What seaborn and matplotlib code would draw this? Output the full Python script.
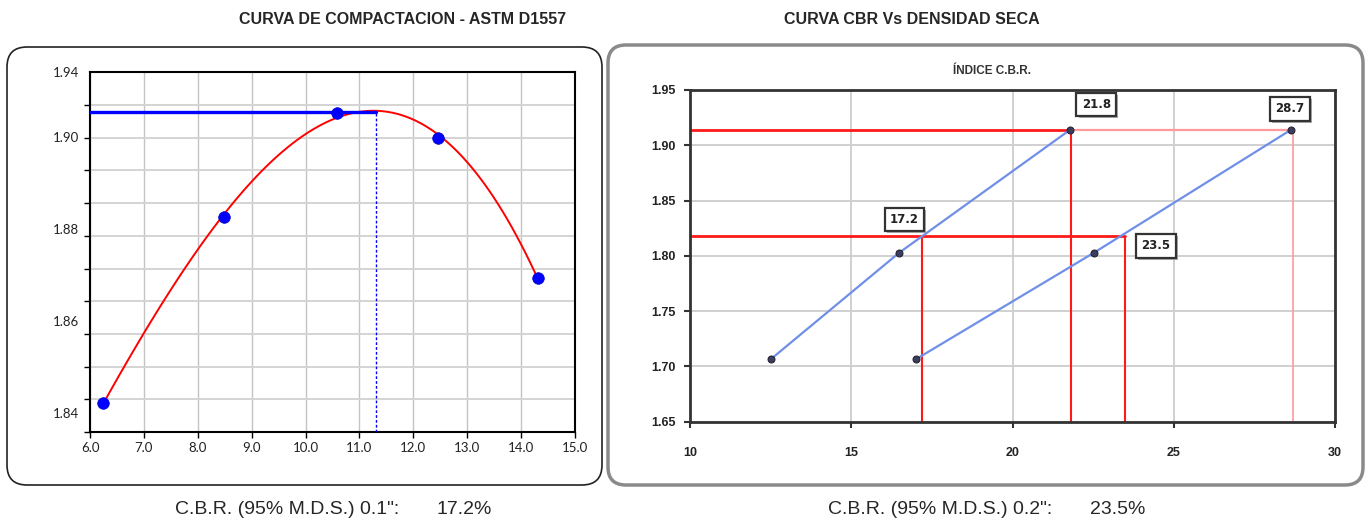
import numpy as np
import pandas as pd
import seaborn as sns
import matplotlib.pyplot as plt
import matplotlib.patheffects as pe
from matplotlib.patches import FancyBboxPatch

# --- compaction test (left chart) ---
humedad = [6.25, 8.48, 10.59, 12.46, 14.31]
densidad = [1.8422, 1.8826, 1.9053, 1.8999, 1.8694]
omc = 11.30          # optimum moisture content
mdd_left = 1.9055    # max dry density as drawn on the left chart
left_ytick_vals = [1.84, 1.86, 1.88, 1.90, 1.9142]
left_ytick_labels = ["1.84", "1.86", "1.88", "1.90", "1.94"]
left_xticks = [6, 7, 8, 9, 10, 11, 12, 13, 14, 15]

# --- CBR vs dry density (right chart) ---
cbr_01 = [12.50, 16.49, 21.79]
cbr_02 = [17.00, 22.53, 28.64]
dens_cbr = [1.7064, 1.8029, 1.9141]
mdd = 1.914
mdd95 = 1.818
cbr95_01, cbr95_02 = 17.2, 23.5
cbr100_01, cbr100_02 = 21.8, 28.7
right_yticks = [1.65, 1.70, 1.75, 1.80, 1.85, 1.90, 1.95]
right_xticks = [10, 15, 20, 25, 30]

sns.set_style("white")
plt.rcParams["font.family"] = ["Liberation Sans", "DejaVu Sans"]

fig = plt.figure(figsize=(13.68, 5.2), dpi=100)

# rounded frames
fig.add_artist(FancyBboxPatch((0.07, 0.35), 5.95, 4.38,
                              boxstyle="round,pad=0,rounding_size=0.2",
                              transform=fig.dpi_scale_trans, fc="white",
                              ec="#222222", lw=1.2, zorder=0))
fig.add_artist(FancyBboxPatch((6.08, 0.35), 7.55, 4.40,
                              boxstyle="round,pad=0,rounding_size=0.18",
                              transform=fig.dpi_scale_trans, fc="white",
                              ec="#8a8a8a", lw=2.5, zorder=0))

# ---------------- left chart ----------------
ax1 = fig.add_axes([90 / 1368, 88 / 520, 485 / 1368, 359.7 / 520])
df1 = pd.DataFrame({"w": humedad, "d": densidad})
sns.regplot(data=df1, x="w", y="d", order=3, ci=None, scatter=False,
            line_kws={"color": "red", "lw": 1.4}, ax=ax1)
ax1.plot([6.0, omc], [mdd_left, mdd_left], color="#0000ff", lw=2.4, zorder=3)
ax1.plot([omc, omc], [1.8358, mdd_left], color="#0000ff", lw=1, ls=(0, (2, 1.5)), zorder=3)
sns.scatterplot(data=df1, x="w", y="d", color="#0000ff", s=70, edgecolor="#0000cc",
                linewidth=0.5, ax=ax1, zorder=4)
ax1.set_xlim(6, 15)
ax1.set_ylim(1.8358, 1.9142)
ax1.set_xticks(left_xticks)
ax1.set_xticklabels([f"{v:.1f}" for v in left_xticks], fontsize=9.5, family="Lato", color="#222222")
ax1.set_yticks(left_ytick_vals)
ax1.set_yticklabels(left_ytick_labels, fontsize=9.5, family="Lato", color="#222222")
ax1.set_yticks(np.linspace(1.8358, 1.9142, 12), minor=True)
ax1.tick_params(axis="y", which="major", length=0, pad=8)
ax1.tick_params(axis="y", which="minor", length=4, width=1, color="black", direction="out", left=True)
ax1.tick_params(axis="x", length=4, width=1, color="black", direction="out", bottom=True, pad=3)
ax1.grid(False)
ax1.grid(axis="y", which="minor", color="#d4d4d4", lw=1.4)
ax1.grid(axis="x", which="major", color="#c4c4c4", lw=1)
ax1.set_axisbelow(True)
for s in ax1.spines.values():
    s.set_color("black")
    s.set_linewidth(1.5)
ax1.set_xlabel("")
ax1.set_ylabel("")

# ---------------- right chart ----------------
ax2 = fig.add_axes([690 / 1368, (520 - 421.7) / 520, 645 / 1368, 331.7 / 520])
df2 = pd.DataFrame({"cbr": cbr_01 + cbr_02, "dens": dens_cbr * 2,
                    "serie": ['0.1"'] * 3 + ['0.2"'] * 3})
red = "#ff1a1a"
pink = "#ff9a9a"
ax2.plot([10, cbr100_01], [mdd, mdd], color=red, lw=2, zorder=2)
ax2.plot([cbr100_01, cbr100_02], [mdd, mdd], color=pink, lw=1.6, zorder=2)
ax2.plot([10, cbr95_02], [mdd95, mdd95], color=red, lw=2, zorder=2)
ax2.vlines([cbr95_01, cbr100_01, cbr95_02], 1.65, [mdd95, mdd, mdd95], color=red, lw=1.5, zorder=2)
ax2.vlines([cbr100_02], 1.65, [mdd], color=pink, lw=1.2, zorder=2)
sns.lineplot(data=df2, x="cbr", y="dens", units="serie", estimator=None,
             color="#6f8fe8", lw=1.6, marker="o", markersize=5,
             markerfacecolor="#3c3c5c", markeredgecolor="#222233", ax=ax2, zorder=3)
box = dict(boxstyle="square,pad=0.45", fc="white", ec="#333333", lw=1.6)
for val, x, y in [(cbr100_01, 22.6, 1.937), (cbr100_02, 28.6, 1.933),
                  (cbr95_01, 16.65, 1.833), (cbr95_02, 24.45, 1.809)]:
    t = ax2.text(x, y, f"{val:.1f}", ha="center", va="center", fontsize=8.5,
                 family="DejaVu Sans", fontweight="bold", color="#222222", bbox=box, zorder=5)
    t.get_bbox_patch().set_path_effects([pe.SimplePatchShadow(offset=(1.5, -1.5), shadow_rgbFace="#999999", alpha=0.8),
                                         pe.Normal()])
ax2.set_xlim(10, 30)
ax2.set_ylim(1.65, 1.95)
ax2.set_xticks(right_xticks)
ax2.set_xticklabels([str(v) for v in right_xticks], fontsize=9, fontweight="bold", color="#222222")
ax2.set_yticks(right_yticks)
ax2.set_yticklabels([f"{v:.2f}" for v in right_yticks], fontsize=9, fontweight="bold", color="#222222")
ax2.tick_params(axis="x", length=4, width=1.5, color="#333333", direction="out", bottom=True, pad=14)
ax2.tick_params(axis="y", length=4, width=1.5, color="#333333", direction="out", left=True, pad=6)
ax2.grid(True, color="#d0d0d0", lw=1.4)
ax2.set_axisbelow(True)
for s in ax2.spines.values():
    s.set_color("#333333")
    s.set_linewidth(2)
ax2.set_xlabel("")
ax2.set_ylabel("")
if ax2.get_legend():
    ax2.get_legend().remove()
fig.text(992 / 1368, 1 - 71 / 520, "ÍNDICE C.B.R.", ha="center", va="center",
         fontsize=8.5, fontweight="bold", color="#333333")

# titles and footers
fig.text(403 / 1368, 1 - 20 / 520, "CURVA DE COMPACTACION - ASTM D1557",
         ha="center", va="center", fontsize=11.5, fontweight="bold")
fig.text(912 / 1368, 1 - 20 / 520, "CURVA CBR Vs DENSIDAD SECA",
         ha="center", va="center", fontsize=11.5, fontweight="bold")
fig.text(175 / 1368, 1 - 509 / 520, 'C.B.R. (95% M.D.S.) 0.1":', ha="left", va="center", fontsize=14)
fig.text(437 / 1368, 1 - 509 / 520, f"{cbr95_01}%", ha="left", va="center", fontsize=14)
fig.text(828 / 1368, 1 - 509 / 520, 'C.B.R. (95% M.D.S.) 0.2":', ha="left", va="center", fontsize=14)
fig.text(1090 / 1368, 1 - 509 / 520, f"{cbr95_02}%", ha="left", va="center", fontsize=14)

fig.savefig("out.png", dpi=100)
